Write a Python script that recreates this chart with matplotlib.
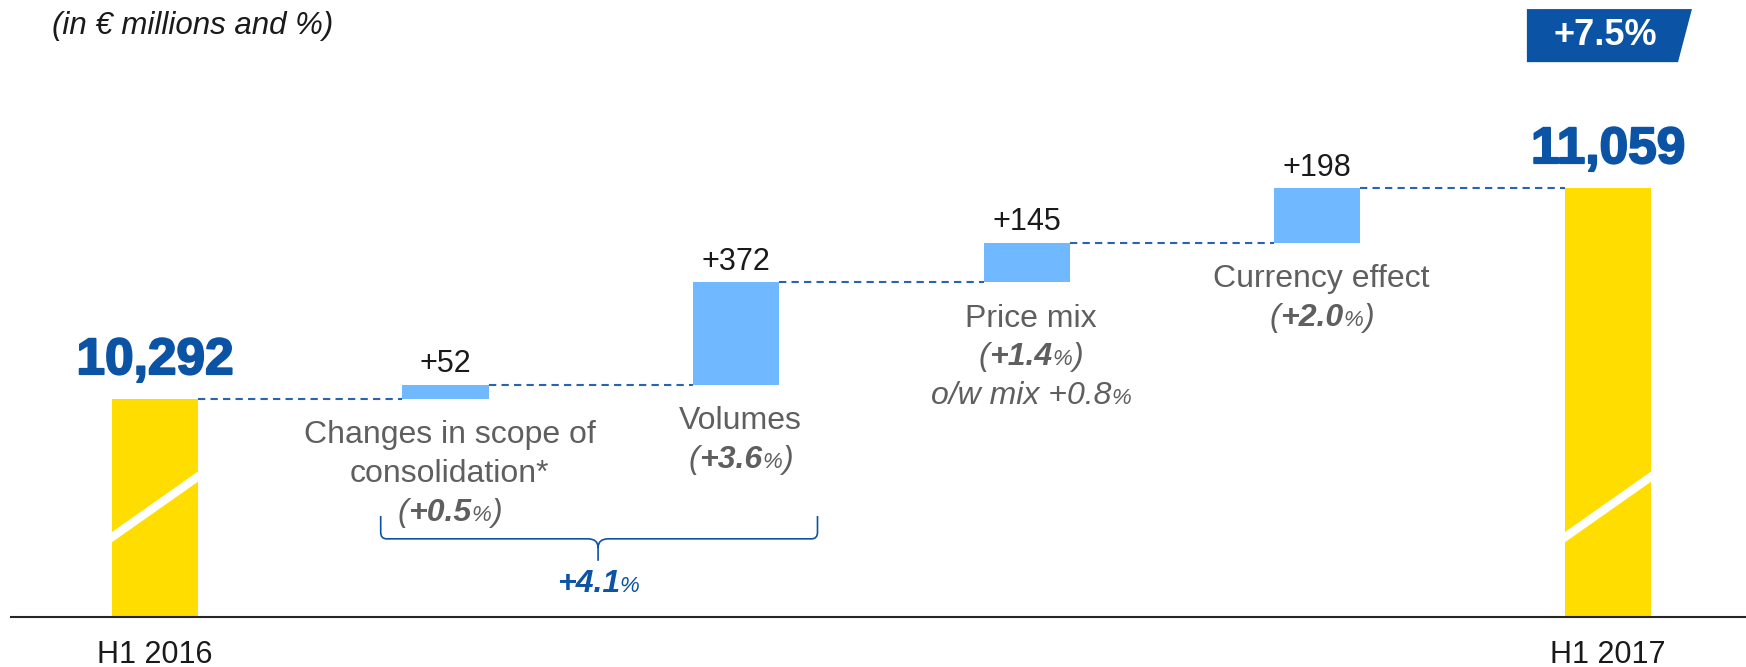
import matplotlib
matplotlib.use("Agg")

import matplotlib.pyplot as plt
import matplotlib.patheffects as pe
from matplotlib.path import Path
from matplotlib.patches import PathPatch, Polygon
from matplotlib.offsetbox import TextArea, HPacker, AnnotationBbox

plt.rcParams["font.family"] = ["Liberation Sans", "DejaVu Sans"]

# data
categories = [
    "H1 2016",
    "Changes in scope of\nconsolidation*",
    "Volumes",
    "Price mix",
    "Currency effect",
    "H1 2017",
]
start_value = 10292
end_value = 11059
deltas = [52, 372, 145, 198]
delta_labels = ["+52", "+372", "+145", "+198"]
delta_pcts = ["+0.5", "+3.6", "+1.4", "+2.0"]
total_labels = ["10,292", "11,059"]
organic_pct = "+4.1"
mix_pct = "+0.8"
growth_label = "+7.5%"

YELLOW = "#FFDD00"
LIGHT_BLUE = "#70B8FF"
DARK_BLUE = "#0B53A4"
DASH_BLUE = "#2A64B0"
GREY = "#5F5F5F"
BLACK = "#1A1A1A"

BASE = 9500      # broken axis, bars start here
BAR_W = 0.296
LINE_GAP = 28    # points between label lines


def pct_box(value, size=23, small=16, color=GREY, parens=True):
    parts = []
    if parens:
        parts.append(TextArea("(", textprops=dict(fontsize=size, style="italic", color=color)))
    parts.append(TextArea(value, textprops=dict(fontsize=size, style="italic",
                                                fontweight="bold", color=color)))
    parts.append(TextArea("%", textprops=dict(fontsize=small, style="italic", color=color)))
    if parens:
        parts.append(TextArea(")", textprops=dict(fontsize=size, style="italic", color=color)))
    return HPacker(children=parts, align="baseline", pad=0, sep=0)


def place_box(ax, box, xy, offset):
    ab = AnnotationBbox(
        box, xy,
        xybox=offset,
        xycoords="data",
        boxcoords="offset points",
        box_alignment=(0.5, 0.5),
        frameon=False,
    )
    ax.add_artist(ab)


def main():

    fig = plt.figure(figsize=(17.46, 6.67), dpi=100)
    ax = fig.add_axes([0, 0, 1, 1])
    ax.set_xlim(-0.533, 5.475)
    ax.set_ylim(9318, 11743)
    ax.axis("off")

    # cumulative levels
    levels = [start_value]
    for d in deltas:
        levels.append(levels[-1] + d)

    # totals
    totals = ax.bar(
        [0, 5],
        [start_value - BASE, end_value - BASE],
        bottom=BASE,
        width=BAR_W,
        color=YELLOW,
        zorder=2,
    )

    # steps
    steps_x = [1, 2, 3, 4]
    ax.bar(
        steps_x,
        deltas,
        bottom=levels[:-1],
        width=BAR_W,
        color=LIGHT_BLUE,
        zorder=2,
    )

    # connectors
    for i in range(5):
        ax.plot(
            [i + BAR_W / 2, i + 1 - BAR_W / 2],
            [levels[i], levels[i]],
            color=DASH_BLUE,
            lw=1.5,
            linestyle=(0, (3.5, 2.5)),
            zorder=1,
        )

    # baseline
    ax.hlines(BASE, -0.50, 5.475, color="#262626", lw=1.5, zorder=3)

    # axis break slash on yellow bars
    for xi, patch in zip([0, 5], totals.patches):
        line, = ax.plot(
            [xi - BAR_W, xi + BAR_W],
            [9680, 10120],
            color="white",
            lw=6,
            solid_capstyle="butt",
            zorder=3,
        )
        line.set_clip_path(patch)

    # total labels
    for xi, val, lab in zip([0, 5], [start_value, end_value], total_labels):
        ax.annotate(
            lab,
            xy=(xi, val),
            xytext=(0, 18),
            textcoords="offset points",
            ha="center",
            va="baseline",
            fontsize=37,
            fontweight="bold",
            color=DARK_BLUE,
            path_effects=[pe.withStroke(linewidth=1.4, foreground=DARK_BLUE)],
        )

    # step labels
    for i, lab in enumerate(delta_labels):
        ax.annotate(
            lab,
            xy=(steps_x[i], levels[i + 1]),
            xytext=(0, 9),
            textcoords="offset points",
            ha="center",
            va="baseline",
            fontsize=22,
            color=BLACK,
        )

    # category names and percentages under steps
    for i in range(4):
        xi = steps_x[i]
        bottom = levels[i]
        lines = categories[xi].split("\n")
        off = 26
        for ln in lines:
            ax.annotate(
                ln,
                xy=(xi, bottom),
                xytext=(3, -off),
                textcoords="offset points",
                ha="center",
                va="center",
                fontsize=23,
                color=GREY,
            )
            off += LINE_GAP
        place_box(ax, pct_box(delta_pcts[i]), (xi, bottom), (3, -off))
        off += LINE_GAP
        if categories[xi] == "Price mix":
            note = HPacker(
                children=[
                    TextArea("o/w mix " + mix_pct,
                             textprops=dict(fontsize=23, style="italic", color=GREY)),
                    TextArea("%", textprops=dict(fontsize=16, style="italic", color=GREY)),
                ],
                align="baseline", pad=0, sep=0,
            )
            place_box(ax, note, (xi, bottom), (3, -off))

    # brace grouping scope + volumes
    xl, xm, xr = 0.777, 1.525, 2.28
    ytop, yh, ytip = 9867, 9784, 9704
    dx, r = 0.02, 24
    dm, rm = 0.035, 32
    verts = [
        (xl, ytop), (xl, yh + r), (xl, yh), (xl + dx, yh),
        (xm - dm, yh), (xm, yh), (xm, yh - rm), (xm, ytip),
        (xm, yh - rm), (xm, yh), (xm + dm, yh),
        (xr - dx, yh), (xr, yh), (xr, yh + r), (xr, ytop),
    ]
    codes = [
        Path.MOVETO, Path.LINETO, Path.CURVE3, Path.CURVE3,
        Path.LINETO, Path.CURVE3, Path.CURVE3, Path.LINETO,
        Path.MOVETO, Path.CURVE3, Path.CURVE3,
        Path.LINETO, Path.CURVE3, Path.CURVE3, Path.LINETO,
    ]
    ax.add_patch(PathPatch(Path(verts, codes), facecolor="none",
                           edgecolor=DARK_BLUE, lw=1.2))
    place_box(ax, pct_box(organic_pct, color=DARK_BLUE, parens=False),
              (xm, ytip), (0, -17))

    # category labels for totals
    for xi in [0, 5]:
        ax.annotate(
            categories[xi],
            xy=(xi, BASE),
            xytext=(0, -33),
            textcoords="offset points",
            ha="center",
            va="baseline",
            fontsize=22,
            color=BLACK,
        )

    # growth badge
    badge = Polygon(
        [(4.721, 11710), (5.289, 11710), (5.241, 11517), (4.721, 11517)],
        closed=True,
        facecolor=DARK_BLUE,
        edgecolor="none",
    )
    ax.add_patch(badge)
    ax.text(
        4.99, 11613, growth_label,
        ha="center", va="center",
        fontsize=26, fontweight="bold", color="white",
    )

    fig.text(
        0.0298, 1 - 26 / 667,
        "(in € millions and %)",
        ha="left", va="center",
        fontsize=22.5, style="italic", color=BLACK,
    )

    fig.savefig("out.png", dpi=100)
    plt.close(fig)


if __name__ == "__main__":
    main()
